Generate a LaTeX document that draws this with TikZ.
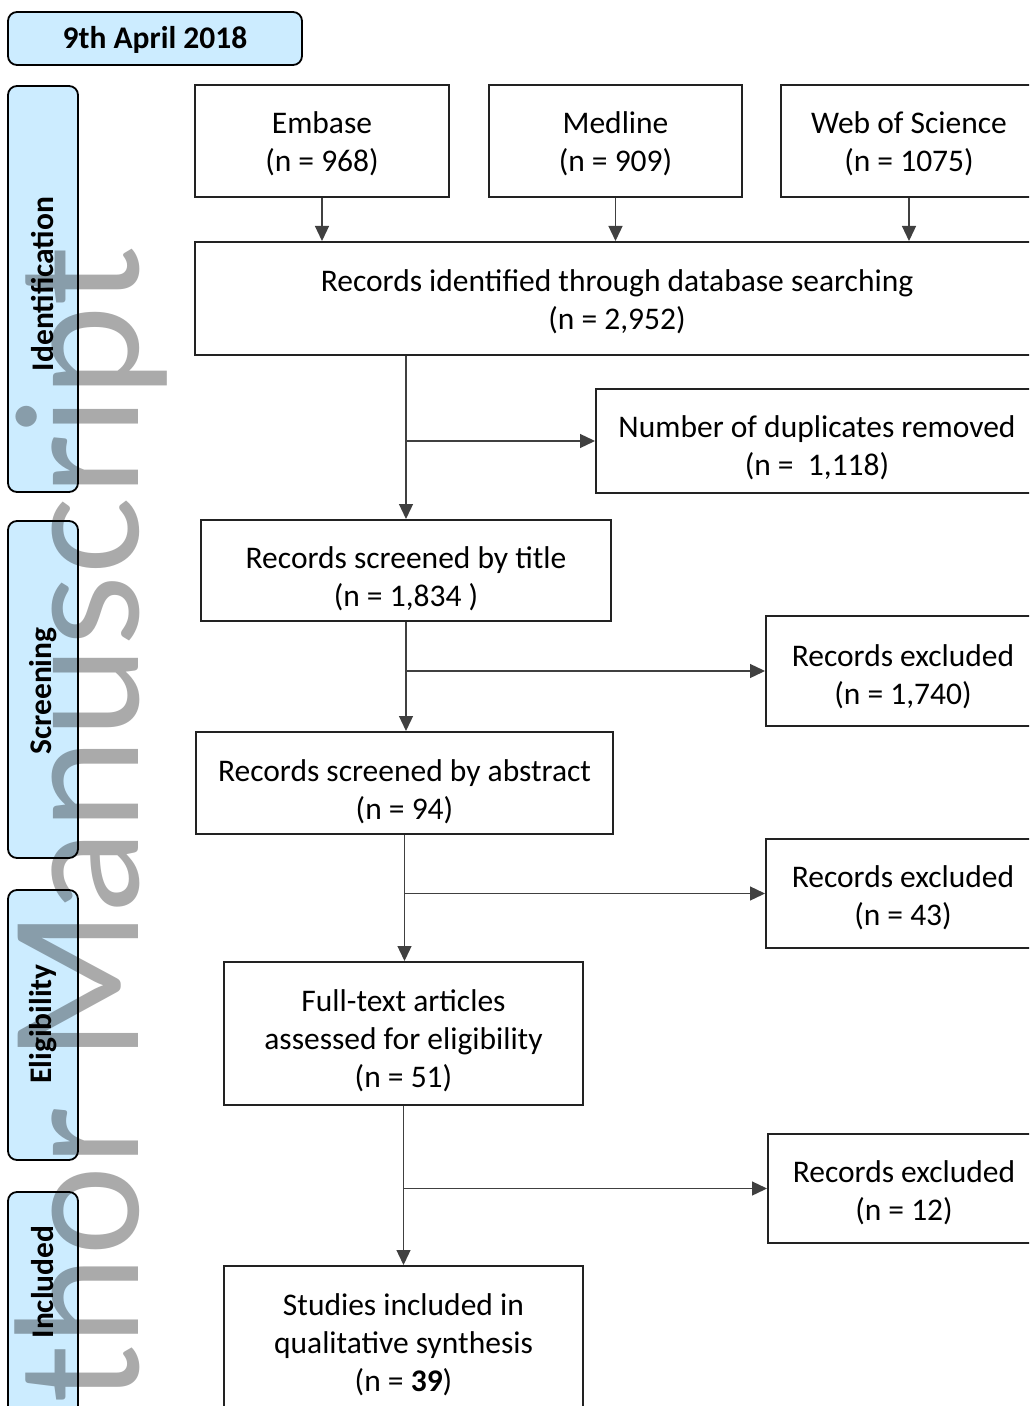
\documentclass[tikz,border=0pt]{standalone}
\usepackage{fontspec}
\setmainfont{Carlito}
\newfontfamily\wmfont{Lato}
\usetikzlibrary{arrows.meta}
\definecolor{sideblue}{RGB}{204,236,255}
\definecolor{wmgray}{RGB}{170,170,170}
\definecolor{boxline}{RGB}{34,34,34}
\definecolor{conline}{RGB}{64,64,64}
% centred block of lines, moved down by #1 (pt)
\newcommand{\bxt}[2]{\raisebox{\dimexpr-3.94pt-#1pt\relax}[0pt][0pt]{\begin{tabular}{@{}c@{}}#2\end{tabular}}}
\tikzset{
  box/.style={draw=boxline, line width=1pt, rectangle, inner sep=0pt, align=center,
    font=\fontsize{15.75}{19}\selectfont},
  sidebox/.style={draw=black, line width=0.9pt, fill=sideblue, rounded corners=4.5pt,
    inner sep=0pt, align=center, font=\fontsize{15.75}{19}\selectfont\bfseries},
  sidetext/.style={inner sep=0pt, rotate=90, font=\fontsize{15.75}{19}\selectfont\bfseries},
  arr/.style={draw=conline, line width=0.65pt, -{Triangle[length=7.5pt,width=7pt]}},
  wmark/.style={inner sep=0pt, rotate=90, anchor=base east, text=wmgray,
    font=\fontsize{84}{84}\selectfont\wmfont}
}
\begin{document}
\begin{tikzpicture}[x=0.5pt,y=-0.5pt]
\useasboundingbox (0,0) rectangle (1029,1406);
\clip (0,0) rectangle (1029,1406);
\fill[white] (0,0) rectangle (1029,1406);

% date and phase boxes
\node[sidebox, minimum width=147pt, minimum height=26.5pt] (date) at (155,38.5) {\bxt{0.9}{9th April 2018}};
\node[sidebox, minimum width=35pt, minimum height=203pt] (ident) at (43,289) {};
\node[sidetext] (identT) at (43,284) {Identification};
\node[sidebox, minimum width=35pt, minimum height=168.5pt] (screen) at (43,689.5) {};
\node[sidetext] (screenT) at (43,691) {Screening};
\node[sidebox, minimum width=35pt, minimum height=135pt] (elig) at (43,1025) {};
\node[sidetext] (eligT) at (43,1024) {Eligibility};
\node[sidebox, minimum width=35pt, minimum height=114pt] (incl) at (43,1306) {};
\node[sidetext] (inclT) at (43,1282) {Included};

% database boxes
\node[box, minimum width=127pt, minimum height=56pt] (embase) at (322,141) {\bxt{1.5}{Embase\\(n = 968)}};
\node[box, minimum width=126.5pt, minimum height=56pt] (medline) at (615.5,141) {\bxt{1.5}{Medline\\(n = 909)}};
\node[box, minimum width=128pt, minimum height=56pt] (wos) at (909,141) {\bxt{1.5}{Web of Science\\(n = 1075)}};

\node[box, minimum width=422pt, minimum height=56.5pt] (recid) at (617,298.5) {\bxt{1.75}{Records identified through database searching\\(n = 2,952)}};
\node[box, minimum width=221pt, minimum height=52pt] (dup) at (817,441) {\bxt{3.5}{Number of duplicates removed\\(n =\ \ 1,118)}};
\node[box, minimum width=205pt, minimum height=50.5pt] (title) at (406,570.5) {\bxt{4.25}{Records screened by title\\(n = 1,834 )}};
\node[box, minimum width=137pt, minimum height=55pt] (excl1) at (903,671) {\bxt{3}{Records excluded\\(n = 1,740)}};
\node[box, minimum width=208.5pt, minimum height=51pt] (abstract) at (404.5,783) {\bxt{4.5}{Records screened by abstract\\(n = 94)}};
\node[box, minimum width=137pt, minimum height=54.5pt] (excl2) at (903,893.5) {\bxt{2.25}{Records excluded\\(n = 43)}};
\node[box, minimum width=179.5pt, minimum height=71.5pt] (fulltext) at (403.5,1033.5) {\bxt{3.75}{Full-text articles\\assessed for eligibility\\(n = 51)}};
\node[box, minimum width=136pt, minimum height=54.5pt] (excl3) at (904,1188.5) {\bxt{2.5}{Records excluded\\(n = 12)}};
\node[box, minimum width=179.5pt, minimum height=82pt] (studies) at (403.5,1348) {\bxt{-1.5}{Studies included in\\qualitative synthesis\\(n = \textbf{39})}};

% connectors
\draw[arr] (embase.south) -- (embase.south |- recid.north);
\draw[arr] (medline.south) -- (medline.south |- recid.north);
\draw[arr] (wos.south) -- (wos.south |- recid.north);

\draw[arr] (title.north |- recid.south) -- (title.north);
\coordinate (b1) at (title.north |- dup.west);
\draw[arr] (b1) -- (dup.west);

\draw[arr] (title.south) -- (title.south |- abstract.north);
\coordinate (b2) at (title.south |- excl1.west);
\draw[arr] (b2) -- (excl1.west);

\draw[arr] (abstract.south) -- (abstract.south |- fulltext.north);
\coordinate (b3) at (abstract.south |- excl2.west);
\draw[arr] (b3) -- (excl2.west);

\draw[arr] (fulltext.south) -- (fulltext.south |- studies.north);
\coordinate (b4) at (fulltext.south |- excl3.west);
\draw[arr] (b4) -- (excl3.west);

% watermark
\begin{scope}[blend mode=multiply]
\node[wmark] (wmB) at (138,247) {\scalebox{0.98}[1]{Manuscript}};
\node[wmark] (wmA) at (138,1108) {\scalebox{0.95}[1]{Author}};
\end{scope}
\end{tikzpicture}
\end{document}
